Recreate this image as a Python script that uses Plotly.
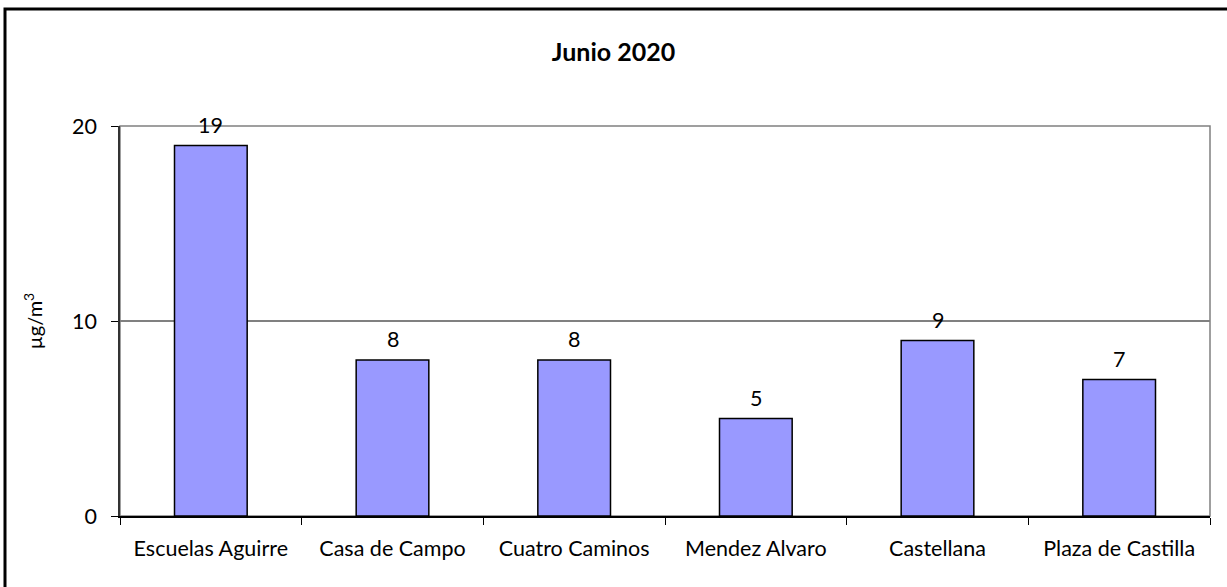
import plotly.graph_objects as go

categories = ["Escuelas Aguirre", "Casa de Campo", "Cuatro Caminos", "Mendez Alvaro", "Castellana", "Plaza de Castilla"]
values = [19, 8, 8, 5, 9, 7]
y_ticks = [0, 10, 20]
title_text = "Junio 2020"
y_title = "µg/m<sup>3</sup>"

FONT = "Lato"
FS = 21.5
W, H = 1227, 587
L, R, T, B = 120, 17, 126, 71
pw, ph = W - L - R, H - T - B

fig = go.Figure()
fig.add_trace(go.Bar(
    x=categories, y=values,
    marker=dict(color="#9999FF", line=dict(color="#000000", width=1.5)),
    width=0.4,
    hoverinfo="x+y",
))

for c, v in zip(categories, values):
    fig.add_annotation(x=c, y=v, text=str(v), showarrow=False,
                       yanchor="middle", yshift=21,
                       font=dict(family=FONT, size=FS, color="#000000"))

# plot-area frame (gray)
fig.add_shape(type="rect", xref="paper", yref="paper", x0=0, x1=1, y0=0, y1=1,
              line=dict(color="#808080", width=1.5), layer="below")
# outer chart border
fig.add_shape(type="rect", xref="paper", yref="paper",
              x0=(5 - L) / pw, x1=(1232 - L) / pw,
              y0=(H - 592 - B) / ph, y1=(H - 9 - B) / ph,
              line=dict(color="#000000", width=3), layer="below")

fig.update_layout(
    width=W, height=H,
    margin=dict(l=L, r=R, t=T, b=B, pad=0),
    paper_bgcolor="white", plot_bgcolor="white",
    showlegend=False,
    font=dict(family=FONT, size=FS, color="#000000"),
    title=dict(text="<b>" + title_text + "</b>", x=0.5, xanchor="center",
               y=1 - 52 / H, yanchor="middle",
               font=dict(family=FONT, size=25, color="#000000")),
    xaxis=dict(
        type="category", tickson="boundaries", ticks="outside", ticklen=7,
        tickcolor="#000000", tickwidth=1,
        showline=True, linecolor="#000000", linewidth=1.5,
        showgrid=False, ticklabelstandoff=12,
        tickfont=dict(family=FONT, size=FS, color="#000000"),
    ),
    yaxis=dict(
        range=[0, 20], tickvals=y_ticks, ticks="outside", ticklen=7,
        tickcolor="#000000", tickwidth=1,
        showline=True, linecolor="#333333", linewidth=1.5,
        showgrid=True, gridcolor="#808080", gridwidth=1.5,
        zeroline=False, ticklabelstandoff=10,
        tickfont=dict(family=FONT, size=FS, color="#000000"),
        title=dict(text=y_title, standoff=24,
                   font=dict(family=FONT, size=20, color="#000000")),
    ),
)

fig.write_html("out.html", config={"displayModeBar": False},
               post_script="document.body.style.margin='0';")
